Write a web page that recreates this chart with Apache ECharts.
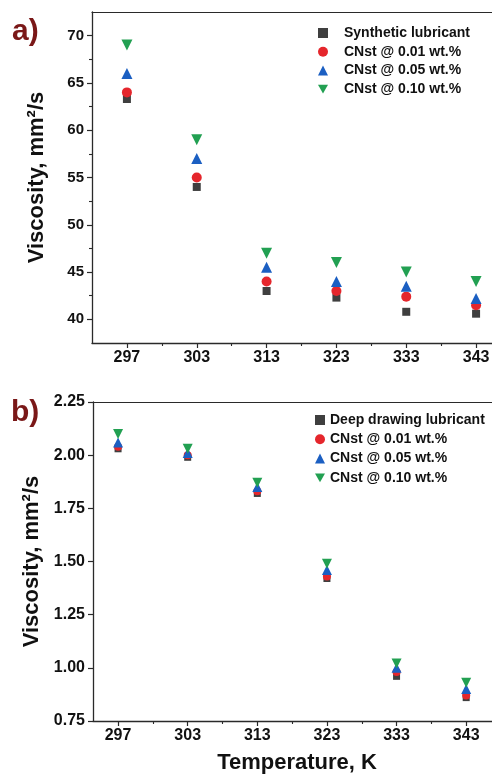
<!DOCTYPE html>
<html>
<head>
<meta charset="utf-8">
<script src="https://cdn.jsdelivr.net/npm/echarts@6/dist/echarts.min.js"></script>
<style>
  html, body { margin: 0; padding: 0; background: #fff; }
  #chart { width: 492px; height: 774px; }
</style>
</head>
<body>
<div id="chart"></div>
<script>
// Temperatures (K), shown as evenly spaced ticks
const temps = ['297', '303', '313', '323', '333', '343'];

// Panel a: synthetic lubricant kinematic viscosity (mm²/s)
const synthBase = [63.3, 54.0, 43.0, 42.3, 40.8, 40.6];
const synthCnst001 = [64.0, 55.0, 44.0, 43.0, 42.4, 41.5];
const synthCnst005 = [66.0, 57.0, 45.5, 44.0, 43.5, 42.2];
const synthCnst010 = [69.0, 59.0, 47.0, 46.0, 45.0, 44.0];

// Panel b: deep drawing lubricant kinematic viscosity (mm²/s)
const deepBase = [2.03, 1.99, 1.82, 1.42, 0.96, 0.86];
const deepCnst001 = [2.04, 2.00, 1.83, 1.43, 0.98, 0.87];
const deepCnst005 = [2.06, 2.01, 1.85, 1.46, 1.00, 0.90];
const deepCnst010 = [2.10, 2.03, 1.87, 1.49, 1.02, 0.93];

// Tick labels
const yTicksA = [40, 45, 50, 55, 60, 65, 70];
const yMinorA = [42.5, 47.5, 52.5, 57.5, 62.5, 67.5];
const yTicksB = [0.75, 1.00, 1.25, 1.50, 1.75, 2.00, 2.25];

const xMajor = temps.map((t, i) => i + 1);
const xMinor = temps.map((t, i) => i + 1.5);

const FONT = '"Liberation Sans", Arial, sans-serif';
const AXIS_COLOR = '#2a2a2a';
const names = ['CNst @ 0.01 wt.%', 'CNst @ 0.05 wt.%', 'CNst @ 0.10 wt.%'];
const DOWN_TRI = 'path://M0,0 L10,0 L5,8.7 Z';
const styles = [
  { symbol: 'rect', color: '#3f3f3f' },
  { symbol: 'circle', color: '#e5262c' },
  { symbol: 'triangle', color: '#1b5fc2' },
  { symbol: DOWN_TRI, color: '#22a052' }
];

function pts(values) {
  return values.map((v, i) => [i + 1, v]);
}

function scatter(name, values, k, grid, sizes) {
  return {
    name: name,
    type: 'scatter',
    xAxisIndex: grid * 3,
    yAxisIndex: grid * 2,
    data: pts(values),
    symbol: styles[k].symbol,
    symbolSize: sizes[k],
    itemStyle: { color: styles[k].color, opacity: 1 },
    z: 3 + k
  };
}

function majorX(grid, min, max, withName) {
  return {
    type: 'value', gridIndex: grid, min: min, max: max, position: 'bottom',
    splitLine: { show: false },
    axisLine: { show: true, onZero: false, lineStyle: { color: AXIS_COLOR, width: 1.3 } },
    axisTick: { show: true, customValues: xMajor, length: 5, lineStyle: { color: AXIS_COLOR, width: 1.2 } },
    axisLabel: {
      customValues: xMajor,
      formatter: v => temps[Math.round(v) - 1],
      margin: 7,
      color: '#111', fontFamily: FONT, fontWeight: 'bold', fontSize: 16
    },
    name: withName ? 'Temperature, K' : '',
    nameLocation: 'middle',
    nameGap: 31,
    nameTextStyle: { color: '#111', fontFamily: FONT, fontWeight: 'bold', fontSize: 22 }
  };
}

function minorX(grid, min, max) {
  return {
    type: 'value', gridIndex: grid, min: min, max: max, position: 'bottom',
    splitLine: { show: false },
    axisLine: { show: false },
    axisTick: { show: true, customValues: xMinor, length: 3, lineStyle: { color: AXIS_COLOR, width: 1.1 } },
    axisLabel: { show: false }
  };
}

// Frame line along the top of each plot
function topFrame(grid, min, max) {
  return {
    type: 'value', gridIndex: grid, min: min, max: max, position: 'top',
    splitLine: { show: false },
    axisLine: { show: true, onZero: false, lineStyle: { color: AXIS_COLOR, width: 1.2 } },
    axisTick: { show: false },
    axisLabel: { show: false }
  };
}

function majorY(grid, min, max, ticks, digits, fontSize, gap) {
  return {
    type: 'value', gridIndex: grid, min: min, max: max, position: 'left',
    splitLine: { show: false },
    axisLine: { show: true, onZero: false, lineStyle: { color: AXIS_COLOR, width: 1.3 } },
    axisTick: { show: true, customValues: ticks, length: 5, lineStyle: { color: AXIS_COLOR, width: 1.2 } },
    axisLabel: {
      customValues: ticks,
      formatter: v => v.toFixed(digits),
      margin: 8,
      color: '#111', fontFamily: FONT, fontWeight: 'bold', fontSize: fontSize
    },
    name: 'Viscosity, mm²/s',
    nameLocation: 'middle',
    nameGap: gap,
    nameTextStyle: { color: '#111', fontFamily: FONT, fontWeight: 'bold', fontSize: 22 }
  };
}

function minorY(grid, min, max, ticks) {
  return {
    type: 'value', gridIndex: grid, min: min, max: max, position: 'left',
    splitLine: { show: false },
    axisLine: { show: false },
    axisTick: { show: ticks.length > 0, customValues: ticks, length: 3, lineStyle: { color: AXIS_COLOR, width: 1.1 } },
    axisLabel: { show: false }
  };
}

const legendText = { color: '#111', fontFamily: FONT, fontWeight: 'bold', fontSize: 14, lineHeight: 14 };

// The plot frames run past the right edge of the page, so the grids are
// laid out with explicit widths and no outer-bounds clamping.
const gridBase = { show: false, outerBoundsMode: 'none', containLabel: false };

const chart = echarts.init(document.getElementById('chart'), null, { renderer: 'canvas' });
chart.setOption({
  backgroundColor: '#fff',
  animation: false,
  grid: [
    Object.assign({ left: 92, top: 12, width: 419, height: 331 }, gridBase),
    Object.assign({ left: 93, top: 402, width: 408, height: 319 }, gridBase)
  ],
  xAxis: [
    majorX(0, 0.5, 6.5, false),
    minorX(0, 0.5, 6.5),
    topFrame(0, 0.5, 6.5),
    majorX(1, 0.64, 6.5, true),
    minorX(1, 0.64, 6.5),
    topFrame(1, 0.64, 6.5)
  ],
  yAxis: [
    majorY(0, 37.5, 72.5, yTicksA, 0, 15, 44),
    minorY(0, 37.5, 72.5, yMinorA),
    majorY(1, 0.75, 2.25, yTicksB, 2, 16, 45),
    minorY(1, 0.75, 2.25, [])
  ],
  legend: [
    {
      orient: 'vertical', left: 313, top: 21,
      itemWidth: 10, itemHeight: 10, itemGap: 4.7,
      data: ['Synthetic lubricant'].concat(names),
      textStyle: Object.assign({ padding: [0, 0, 0, 11] }, legendText),
      selectedMode: false
    },
    {
      orient: 'vertical', left: 310, top: 408,
      itemWidth: 10, itemHeight: 10, itemGap: 5.3,
      data: ['Deep drawing lubricant'].concat(names),
      textStyle: legendText,
      selectedMode: false
    }
  ],
  graphic: [
    { type: 'text', left: 12, top: 17, style: { text: 'a)', fill: '#7a1818', font: 'bold 30px ' + FONT } },
    { type: 'text', left: 11, top: 398, style: { text: 'b)', fill: '#7a1818', font: 'bold 30px ' + FONT } }
  ],
  series: [
    scatter('Synthetic lubricant', synthBase, 0, 0, [8, 10, 11, 11]),
    scatter(names[0], synthCnst001, 1, 0, [8, 10, 11, 11]),
    scatter(names[1], synthCnst005, 2, 0, [8, 10, 11, 11]),
    scatter(names[2], synthCnst010, 3, 0, [8, 10, 11, 11]),
    scatter('Deep drawing lubricant', deepBase, 0, 1, [7, 8, 10, 10]),
    scatter(names[0], deepCnst001, 1, 1, [7, 8, 10, 10]),
    scatter(names[1], deepCnst005, 2, 1, [7, 8, 10, 10]),
    scatter(names[2], deepCnst010, 3, 1, [7, 8, 10, 10])
  ]
});
</script>
</body>
</html>
